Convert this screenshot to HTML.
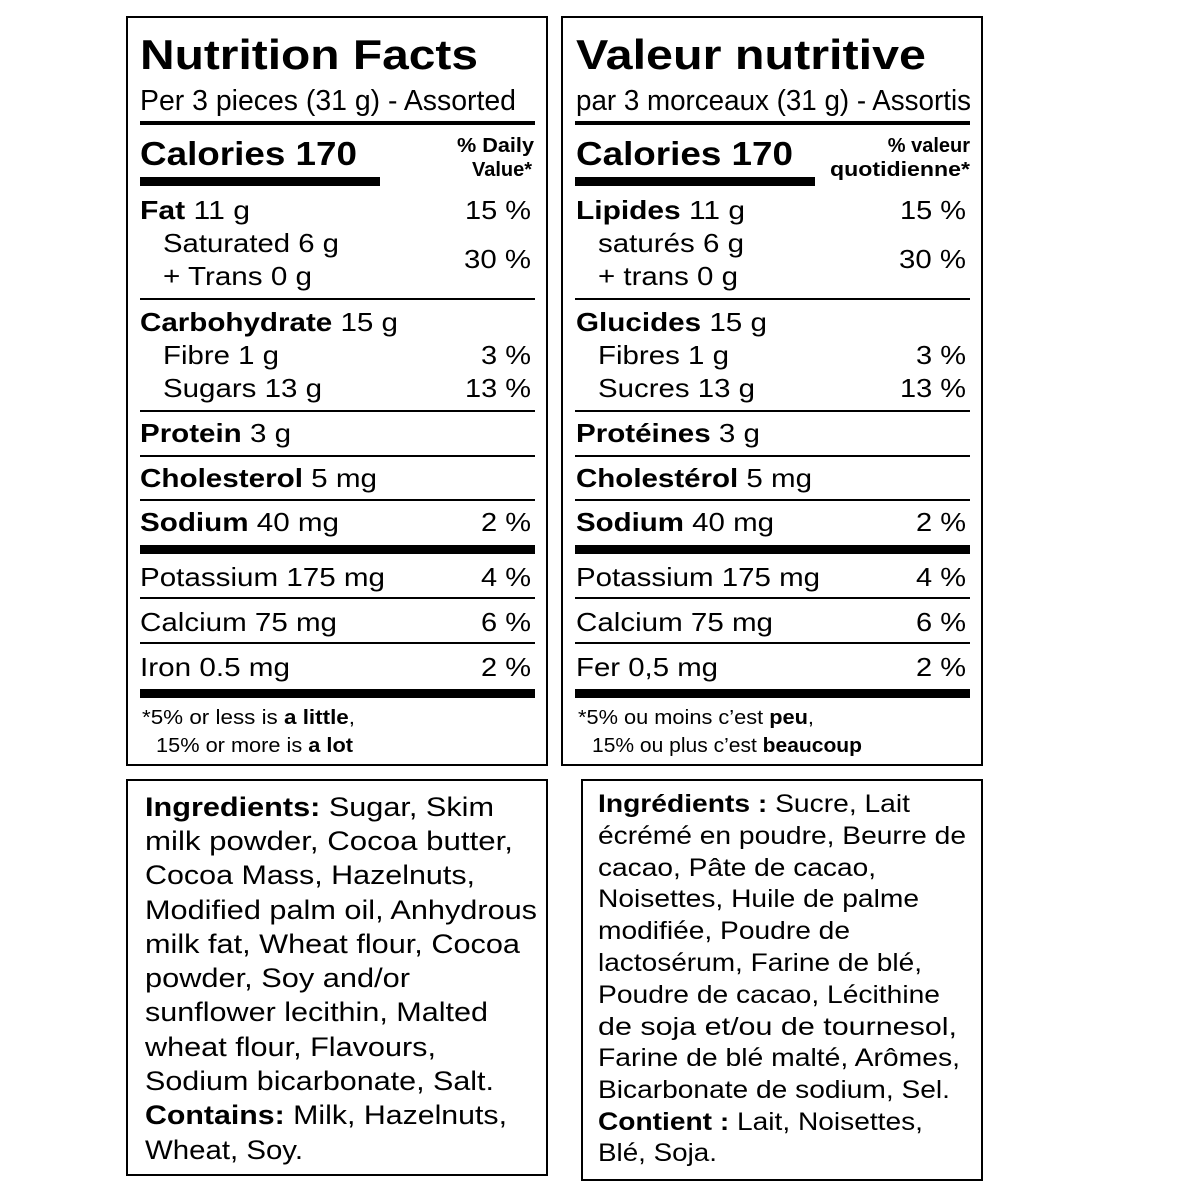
<!DOCTYPE html>
<html><head><meta charset="utf-8"><style>
html,body{margin:0;padding:0;background:#fff}
svg{display:block}
text{font-family:"Liberation Sans",Arial,sans-serif;fill:#000}
.b{font-weight:bold}
</style></head><body>
<svg width="1200" height="1200" viewBox="0 0 1200 1200" xmlns="http://www.w3.org/2000/svg">
<g fill="none" stroke="#000" stroke-width="2">
<rect x="127" y="17" width="420" height="748"/>
<rect x="562" y="17" width="420" height="748"/>
<rect x="127" y="780" width="420" height="395"/>
<rect x="582" y="780" width="400" height="400"/>
</g>
<g fill="#000">
<rect x="140" y="121" width="395" height="4"/>
<rect x="140" y="177" width="240" height="9"/>
<rect x="140" y="298" width="395" height="2"/>
<rect x="140" y="410" width="395" height="2"/>
<rect x="140" y="455" width="395" height="2"/>
<rect x="140" y="499" width="395" height="2"/>
<rect x="140" y="545" width="395" height="9"/>
<rect x="140" y="597" width="395" height="2"/>
<rect x="140" y="642" width="395" height="2"/>
<rect x="140" y="689" width="395" height="9"/>
<rect x="575" y="121" width="395" height="4"/>
<rect x="575" y="177" width="240" height="9"/>
<rect x="575" y="298" width="395" height="2"/>
<rect x="575" y="410" width="395" height="2"/>
<rect x="575" y="455" width="395" height="2"/>
<rect x="575" y="499" width="395" height="2"/>
<rect x="575" y="545" width="395" height="9"/>
<rect x="575" y="597" width="395" height="2"/>
<rect x="575" y="642" width="395" height="2"/>
<rect x="575" y="689" width="395" height="9"/>
</g>

<!-- LEFT PANEL -->
<text x="140" y="69" class="b" font-size="42" textLength="338" lengthAdjust="spacingAndGlyphs">Nutrition Facts</text>
<text x="140" y="110" font-size="29" textLength="376" lengthAdjust="spacingAndGlyphs">Per 3 pieces (31 g) - Assorted</text>
<text x="140" y="165" class="b" font-size="33" textLength="217" lengthAdjust="spacingAndGlyphs">Calories 170</text>
<text x="534" y="152" class="b" font-size="20" text-anchor="end" textLength="77" lengthAdjust="spacingAndGlyphs">% Daily</text>
<text x="532" y="176" class="b" font-size="20" text-anchor="end">Value*</text>
<g font-size="26">
<text x="140" y="219" textLength="110" lengthAdjust="spacingAndGlyphs"><tspan class="b">Fat</tspan> 11 g</text>
<text x="465" y="219" textLength="66" lengthAdjust="spacingAndGlyphs">15 %</text>
<text x="163" y="252" textLength="176" lengthAdjust="spacingAndGlyphs">Saturated 6 g</text>
<text x="163" y="285" textLength="149" lengthAdjust="spacingAndGlyphs">+ Trans 0 g</text>
<text x="464" y="268" textLength="67" lengthAdjust="spacingAndGlyphs">30 %</text>
<text x="140" y="331" textLength="258" lengthAdjust="spacingAndGlyphs"><tspan class="b">Carbohydrate</tspan> 15 g</text>
<text x="163" y="364" textLength="116" lengthAdjust="spacingAndGlyphs">Fibre 1 g</text>
<text x="481" y="364" textLength="50" lengthAdjust="spacingAndGlyphs">3 %</text>
<text x="163" y="397" textLength="159" lengthAdjust="spacingAndGlyphs">Sugars 13 g</text>
<text x="465" y="397" textLength="66" lengthAdjust="spacingAndGlyphs">13 %</text>
<text x="140" y="442" textLength="151" lengthAdjust="spacingAndGlyphs"><tspan class="b">Protein</tspan> 3 g</text>
<text x="140" y="487" textLength="237" lengthAdjust="spacingAndGlyphs"><tspan class="b">Cholesterol</tspan> 5 mg</text>
<text x="140" y="531" textLength="199" lengthAdjust="spacingAndGlyphs"><tspan class="b">Sodium</tspan> 40 mg</text>
<text x="481" y="531" textLength="50" lengthAdjust="spacingAndGlyphs">2 %</text>
<text x="140" y="586" textLength="245" lengthAdjust="spacingAndGlyphs">Potassium 175 mg</text>
<text x="481" y="586" textLength="50" lengthAdjust="spacingAndGlyphs">4 %</text>
<text x="140" y="631" textLength="197" lengthAdjust="spacingAndGlyphs">Calcium 75 mg</text>
<text x="481" y="631" textLength="50" lengthAdjust="spacingAndGlyphs">6 %</text>
<text x="140" y="676" textLength="150" lengthAdjust="spacingAndGlyphs">Iron 0.5 mg</text>
<text x="481" y="676" textLength="50" lengthAdjust="spacingAndGlyphs">2 %</text>
</g>
<text x="142" y="724" font-size="20" textLength="213" lengthAdjust="spacingAndGlyphs">*5% or less is <tspan class="b">a little</tspan>,</text>
<text x="156" y="752" font-size="20" textLength="197" lengthAdjust="spacingAndGlyphs">15% or more is <tspan class="b">a lot</tspan></text>

<!-- RIGHT PANEL -->
<text x="576" y="69" class="b" font-size="42" textLength="350" lengthAdjust="spacingAndGlyphs">Valeur nutritive</text>
<text x="576" y="110" font-size="29" textLength="395" lengthAdjust="spacingAndGlyphs">par 3 morceaux (31 g) - Assortis</text>
<text x="576" y="165" class="b" font-size="33" textLength="217" lengthAdjust="spacingAndGlyphs">Calories 170</text>
<text x="970" y="152" class="b" font-size="20" text-anchor="end">% valeur</text>
<text x="970" y="176" class="b" font-size="20" text-anchor="end" textLength="140" lengthAdjust="spacingAndGlyphs">quotidienne*</text>
<g font-size="26">
<text x="576" y="219" textLength="169" lengthAdjust="spacingAndGlyphs"><tspan class="b">Lipides</tspan> 11 g</text>
<text x="900" y="219" textLength="66" lengthAdjust="spacingAndGlyphs">15 %</text>
<text x="598" y="252" textLength="146" lengthAdjust="spacingAndGlyphs">saturés 6 g</text>
<text x="598" y="285" textLength="140" lengthAdjust="spacingAndGlyphs">+ trans 0 g</text>
<text x="899" y="268" textLength="67" lengthAdjust="spacingAndGlyphs">30 %</text>
<text x="576" y="331" textLength="191" lengthAdjust="spacingAndGlyphs"><tspan class="b">Glucides</tspan> 15 g</text>
<text x="598" y="364" textLength="131" lengthAdjust="spacingAndGlyphs">Fibres 1 g</text>
<text x="916" y="364" textLength="50" lengthAdjust="spacingAndGlyphs">3 %</text>
<text x="598" y="397" textLength="157" lengthAdjust="spacingAndGlyphs">Sucres 13 g</text>
<text x="900" y="397" textLength="66" lengthAdjust="spacingAndGlyphs">13 %</text>
<text x="576" y="442" textLength="184" lengthAdjust="spacingAndGlyphs"><tspan class="b">Protéines</tspan> 3 g</text>
<text x="576" y="487" textLength="236" lengthAdjust="spacingAndGlyphs"><tspan class="b">Cholestérol</tspan> 5 mg</text>
<text x="576" y="531" textLength="198" lengthAdjust="spacingAndGlyphs"><tspan class="b">Sodium</tspan> 40 mg</text>
<text x="916" y="531" textLength="50" lengthAdjust="spacingAndGlyphs">2 %</text>
<text x="576" y="586" textLength="244" lengthAdjust="spacingAndGlyphs">Potassium 175 mg</text>
<text x="916" y="586" textLength="50" lengthAdjust="spacingAndGlyphs">4 %</text>
<text x="576" y="631" textLength="197" lengthAdjust="spacingAndGlyphs">Calcium 75 mg</text>
<text x="916" y="631" textLength="50" lengthAdjust="spacingAndGlyphs">6 %</text>
<text x="576" y="676" textLength="142" lengthAdjust="spacingAndGlyphs">Fer 0,5 mg</text>
<text x="916" y="676" textLength="50" lengthAdjust="spacingAndGlyphs">2 %</text>
</g>
<text x="578" y="724" font-size="20" textLength="236" lengthAdjust="spacingAndGlyphs">*5% ou moins c’est <tspan class="b">peu</tspan>,</text>
<text x="592" y="752" font-size="20" textLength="270" lengthAdjust="spacingAndGlyphs">15% ou plus c’est <tspan class="b">beaucoup</tspan></text>

<!-- LEFT INGREDIENTS -->
<g font-size="27">
<text x="145" y="816" textLength="349" lengthAdjust="spacingAndGlyphs"><tspan class="b">Ingredients:</tspan> Sugar, Skim</text>
<text x="145" y="850" textLength="368" lengthAdjust="spacingAndGlyphs">milk powder, Cocoa butter,</text>
<text x="145" y="884" textLength="330" lengthAdjust="spacingAndGlyphs">Cocoa Mass, Hazelnuts,</text>
<text x="145" y="919" textLength="392" lengthAdjust="spacingAndGlyphs">Modified palm oil, Anhydrous</text>
<text x="145" y="953" textLength="375" lengthAdjust="spacingAndGlyphs">milk fat, Wheat flour, Cocoa</text>
<text x="145" y="987" textLength="265" lengthAdjust="spacingAndGlyphs">powder, Soy and/or</text>
<text x="145" y="1021" textLength="343" lengthAdjust="spacingAndGlyphs">sunflower lecithin, Malted</text>
<text x="145" y="1056" textLength="291" lengthAdjust="spacingAndGlyphs">wheat flour, Flavours,</text>
<text x="145" y="1090" textLength="349" lengthAdjust="spacingAndGlyphs">Sodium bicarbonate, Salt.</text>
<text x="145" y="1124" textLength="362" lengthAdjust="spacingAndGlyphs"><tspan class="b">Contains:</tspan> Milk, Hazelnuts,</text>
<text x="145" y="1159" textLength="158" lengthAdjust="spacingAndGlyphs">Wheat, Soy.</text>
</g>

<!-- RIGHT INGREDIENTS -->
<g font-size="25">
<text x="598" y="812" textLength="312" lengthAdjust="spacingAndGlyphs"><tspan class="b">Ingrédients :</tspan> Sucre, Lait</text>
<text x="598" y="844" textLength="368" lengthAdjust="spacingAndGlyphs">écrémé en poudre, Beurre de</text>
<text x="598" y="876" textLength="278" lengthAdjust="spacingAndGlyphs">cacao, Pâte de cacao,</text>
<text x="598" y="907" textLength="321" lengthAdjust="spacingAndGlyphs">Noisettes, Huile de palme</text>
<text x="598" y="939" textLength="252" lengthAdjust="spacingAndGlyphs">modifiée, Poudre de</text>
<text x="598" y="971" textLength="324" lengthAdjust="spacingAndGlyphs">lactosérum, Farine de blé,</text>
<text x="598" y="1003" textLength="342" lengthAdjust="spacingAndGlyphs">Poudre de cacao, Lécithine</text>
<text x="598" y="1035" textLength="359" lengthAdjust="spacingAndGlyphs">de soja et/ou de tournesol,</text>
<text x="598" y="1066" textLength="362" lengthAdjust="spacingAndGlyphs">Farine de blé malté, Arômes,</text>
<text x="598" y="1098" textLength="352" lengthAdjust="spacingAndGlyphs">Bicarbonate de sodium, Sel.</text>
<text x="598" y="1130" textLength="325" lengthAdjust="spacingAndGlyphs"><tspan class="b">Contient :</tspan> Lait, Noisettes,</text>
<text x="598" y="1161" textLength="119" lengthAdjust="spacingAndGlyphs">Blé, Soja.</text>
</g>
</svg>
</body></html>
